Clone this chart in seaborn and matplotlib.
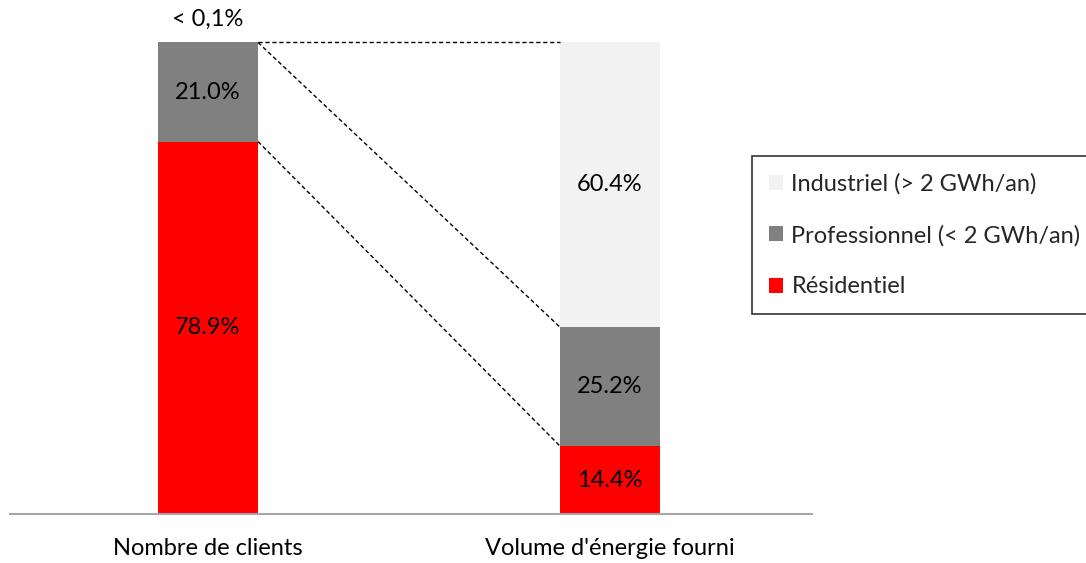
import matplotlib
matplotlib.use("Agg")
import matplotlib.pyplot as plt
import seaborn as sns
import numpy as np
import pandas as pd
from matplotlib.patches import Patch

categories = ["Nombre de clients", "Volume d'énergie fourni"]
residentiel = [78.9, 14.4]
professionnel = [21.0, 25.2]
industriel = [0.1, 60.4]
series_names = ["Industriel (> 2 GWh/an)", "Professionnel (< 2 GWh/an)", "Résidentiel"]
labels_res = ["78.9%", "14.4%"]
labels_pro = ["21.0%", "25.2%"]
labels_ind = ["< 0,1%", "60.4%"]

colors = {"ind": "#F2F2F2", "pro": "#808080", "res": "#FF0000"}

sns.set_theme(style="white")
plt.rcParams['font.family'] = ['Lato', 'DejaVu Sans']

res = np.array(residentiel)
pro = np.array(professionnel)
ind = np.array(industriel)
cum_pro = res + pro
cum_ind = res + pro + ind

df = pd.DataFrame({"cat": categories, "res": res, "pro": cum_pro, "ind": cum_ind})

fig = plt.figure(figsize=(10.86, 5.63), dpi=100)
ax = fig.add_axes([10/1086, 49/563, 802/1086, 514/563])

W = 0.249
sns.barplot(data=df, x="cat", y="ind", color=colors["ind"], width=W, ax=ax, saturation=1, linewidth=0)
sns.barplot(data=df, x="cat", y="pro", color=colors["pro"], width=W, ax=ax, saturation=1, linewidth=0)
sns.barplot(data=df, x="cat", y="res", color=colors["res"], width=W, ax=ax, saturation=1, linewidth=0)

ax.set_xlim(-0.4925, 1.5025)
ax.set_ylim(0, 108.9)
ax.set_xlabel("")
ax.set_ylabel("")
ax.set_yticks([])
for s in ["top", "right", "left"]:
    ax.spines[s].set_visible(False)
ax.spines["bottom"].set_color("#A6A6A6")
ax.spines["bottom"].set_linewidth(1.5)
fs = 17
ax.tick_params(axis="x", length=0, pad=17, labelsize=fs, labelcolor="black")

# connector lines
x0 = 0 + W / 2
x1 = 1 - W / 2
ax.plot([x0, x1], [cum_ind[0], cum_ind[1]], color="black", lw=1, dashes=(3, 2))
ax.plot([x0, x1], [cum_pro[0], cum_pro[1]], color="black", lw=1, dashes=(3, 2))
ax.plot([x0, x1], [res[0], res[1]], color="black", lw=1, dashes=(3, 2))

for i in range(2):
    ax.text(i, res[i] / 2, labels_res[i], ha="center", va="center", fontsize=fs, color="black")
    ax.text(i, res[i] + pro[i] / 2, labels_pro[i], ha="center", va="center", fontsize=fs, color="black")
ax.text(0, cum_ind[0] + 4.9, labels_ind[0], ha="center", va="center", fontsize=fs, color="black")
ax.text(1, cum_pro[1] + ind[1] / 2, labels_ind[1], ha="center", va="center", fontsize=fs, color="black")

handles = [Patch(facecolor=colors["ind"], edgecolor="none"),
           Patch(facecolor=colors["pro"], edgecolor="none"),
           Patch(facecolor=colors["res"], edgecolor="none")]
leg = fig.legend(handles, series_names, loc="upper left", bbox_to_anchor=(752/1086, 1 - 156/563),
                 frameon=True, fancybox=False, fontsize=fs, labelspacing=1.28,
                 handlelength=0.6, handleheight=0.6, handletextpad=0.35, borderpad=0.72,
                 borderaxespad=0)
leg.get_frame().set_edgecolor("black")
leg.get_frame().set_linewidth(1.2)

fig.savefig("out.png", dpi=100)
